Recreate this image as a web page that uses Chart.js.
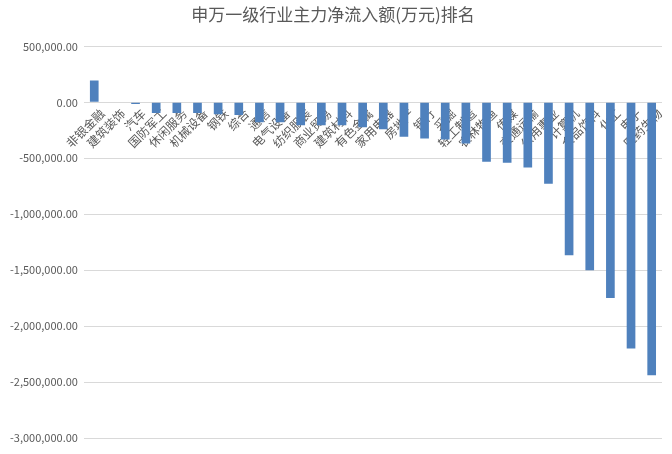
<!DOCTYPE html>
<html><head><meta charset="utf-8">
<script src="https://cdn.jsdelivr.net/npm/chart.js@4/dist/chart.umd.min.js"></script>
<style>html,body{margin:0;background:#fff}#w{width:672px;height:454px}</style>
</head><body><div id="w"><canvas id="c"></canvas></div>
<script>
const categories = ["非银金融","建筑装饰","汽车","国防军工","休闲服务","机械设备","钢铁","综合","通信","电气设备","纺织服装","商业贸易","建筑材料","有色金属","家用电器","房地产","银行","采掘","轻工制造","农林牧渔","传媒","交通运输","公用事业","计算机","食品饮料","化工","电子","医药生物"];
const netInflow = [196000,-3000,-15000,-95000,-95000,-95000,-107000,-113000,-178000,-178000,-205000,-205000,-205000,-222000,-240000,-308000,-323000,-332000,-368000,-530000,-540000,-583000,-728000,-1367000,-1500000,-1748000,-2200000,-2440000];
const titleText = "申万一级行业主力净流入额(万元)排名";
const font = "'Noto Sans CJK SC', sans-serif";
const labelPlugin = {
  id:'lbl',
  beforeDatasetsDraw(chart){
    const ctx=chart.ctx, x=chart.scales.x, y=chart.scales.y;
    const y0=y.getPixelForValue(0);
    ctx.save();
    ctx.font="12px "+font; ctx.fillStyle="#595959";
    ctx.textAlign="right"; ctx.textBaseline="middle";
    categories.forEach((c,i)=>{
      const px=x.getPixelForValue(i);
      ctx.save(); ctx.translate(px+8,y0+9); ctx.rotate(-Math.PI/4);
      ctx.fillText(c,0,0); ctx.restore();
    });
    ctx.restore();
  }
};
new Chart(document.getElementById('c'),{
  type:'bar',
  data:{labels:categories,datasets:[{data:netInflow,backgroundColor:'#4f81bd',barPercentage:0.42,categoryPercentage:1}]},
  options:{
    responsive:true,maintainAspectRatio:false,animation:false,
    layout:{padding:{left:4,right:10,top:0,bottom:8}},
    plugins:{legend:{display:false},tooltip:{enabled:false},
      title:{display:true,text:titleText,color:'#595959',font:{family:font,size:17,weight:'normal'},padding:{top:4,bottom:22}}},
    scales:{
      x:{grid:{display:false},border:{display:false},ticks:{display:false}},
      y:{min:-3000000,max:500000,
        ticks:{stepSize:500000,color:'#595959',font:{family:font,size:11},padding:6,
          callback:v=>v.toLocaleString('en-US',{minimumFractionDigits:2,maximumFractionDigits:2})},
        grid:{color:'#d9d9d9',drawTicks:false},border:{display:false}}
    }
  },
  plugins:[labelPlugin]
});
</script></body></html>
